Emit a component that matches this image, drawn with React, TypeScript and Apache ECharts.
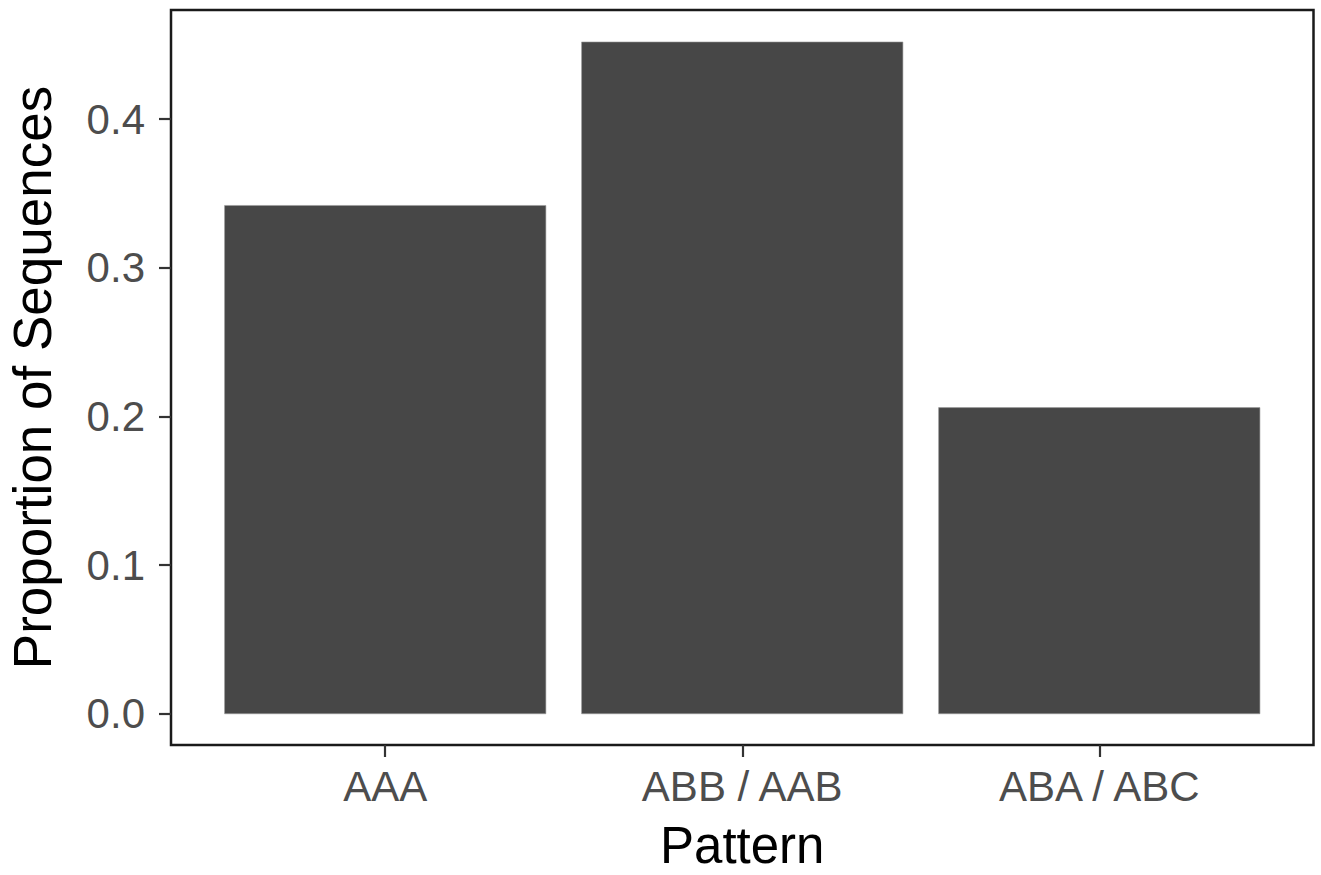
import React, { useEffect, useRef } from "react";
import * as echarts from "echarts";

const categories = ["AAA", "ABB / AAB", "ABA / ABC"];
const proportions = [0.342, 0.452, 0.206];
const yTicks = [0, 0.1, 0.2, 0.3, 0.4];
const xTicks = [1, 2, 3];
const yRange = [-0.021, 0.4735];

const FONT = "'Liberation Sans', Arial, Helvetica, sans-serif";

export default function App() {
  const ref = useRef<HTMLDivElement>(null);
  useEffect(() => {
    if (!ref.current) return;
    const chart = echarts.init(ref.current, undefined, { renderer: "svg" });
    const option: any = {
      animation: false,
      backgroundColor: "#ffffff",
      grid: {
        left: 171,
        right: 7.5,
        top: 10,
        bottom: 130,
        containLabel: false,
        outerBoundsMode: "none",
        show: true,
        borderColor: "#1a1a1a",
        borderWidth: 2.5,
        backgroundColor: "transparent",
      },
      xAxis: {
        type: "value",
        min: 0.4,
        max: 3.6,
        name: "Pattern",
        nameLocation: "middle",
        nameGap: 75,
        nameMoveOverlap: false,
        nameTextStyle: { fontFamily: FONT, fontSize: 51, color: "#000000" },
        axisLine: { show: false, onZero: false },
        splitLine: { show: false },
        axisTick: {
          show: true,
          customValues: xTicks,
          length: 12,
          lineStyle: { color: "#333333", width: 2.2 },
        },
        axisLabel: {
          customValues: xTicks,
          margin: 20,
          fontFamily: FONT,
          fontSize: 42,
          color: "#4d4d4d",
          formatter: (v: number) => categories[Math.round(v) - 1] ?? "",
        },
      },
      yAxis: {
        type: "value",
        min: yRange[0],
        max: yRange[1],
        name: "Proportion of Sequences",
        nameLocation: "middle",
        nameGap: 112,
        nameMoveOverlap: false,
        nameTextStyle: { fontFamily: FONT, fontSize: 53, color: "#000000" },
        axisLine: { show: false, onZero: false },
        splitLine: { show: false },
        axisTick: {
          show: true,
          customValues: yTicks,
          length: 12,
          lineStyle: { color: "#333333", width: 2.2 },
        },
        axisLabel: {
          customValues: yTicks,
          margin: 26,
          fontFamily: FONT,
          fontSize: 42,
          color: "#4d4d4d",
          formatter: (v: number) => v.toFixed(1),
        },
      },
      series: [
        {
          type: "custom",
          data: proportions.map((p, i) => [xTicks[i], p]),
          renderItem: (params: any, api: any) => {
            const x = api.value(0);
            const y = api.value(1);
            const p0 = api.coord([x - 0.45, y]);
            const p1 = api.coord([x + 0.45, 0]);
            return {
              type: "rect",
              shape: { x: p0[0], y: p0[1], width: p1[0] - p0[0], height: p1[1] - p0[1] },
              style: { fill: "#474747", stroke: "#9a9a9a", lineWidth: 0.6 },
            };
          },
        },
      ],
    };
    chart.setOption(option);
    return () => chart.dispose();
  }, []);
  return (
    <div
      ref={ref}
      style={{ position: "fixed", left: 0, top: 0, width: 1321, height: 875, background: "#fff" }}
    />
  );
}
